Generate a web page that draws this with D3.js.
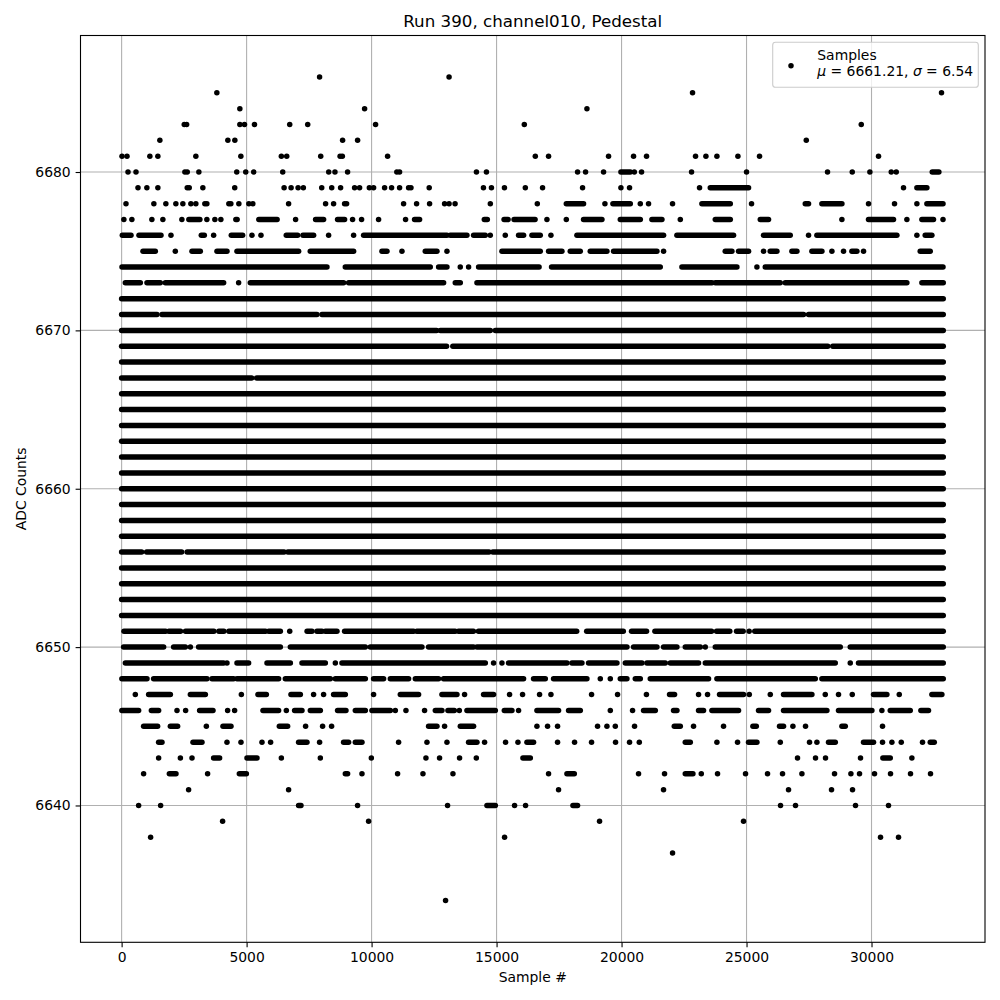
<!DOCTYPE html>
<html><head><meta charset="utf-8">
<script src="https://cdn.jsdelivr.net/npm/d3@7"></script>
<style>body{margin:0;background:#fff} svg{display:block;font-family:"DejaVu Sans",sans-serif}</style>
</head><body><svg id="c" width="1000" height="1000"></svg>
<script>
// ---------- chart text ----------
const titleText = "Run 390, channel010, Pedestal";
const xLabel = "Sample #";
const yLabel = "ADC Counts";
const legendLabel = "Samples";
const meanValue = "6661.21";
const sigmaValue = "6.54";
const xTicks = [0, 5000, 10000, 15000, 20000, 25000, 30000];
const yTicks = [6640, 6650, 6660, 6670, 6680];
const lastSample = 32870;

// ---------- data: [ADC level, sample #s]; a single number is one sample,
// a pair [first,last] is a stretch of consecutive samples at that level ----------
const outliersHigh = [
  [6686, [7920, 13100]],
  [6685, [3810, 22840, 32800]],
  [6684, [4730, 9720, 18615]],
  [6683, [2505, 2600, 4730, 4915, 5315, 6725, 7445, 10160, 16110, 29590]],
  [6682, [1530, 4250, 4530, 8840, 9440, 27390]],
  [6681, [15, 215, 1130, 1450, 2970, 4770, 6390, 6605, 7965, 8740, 8830, 10640, 16550, 17080, 19480, 20480, 21000, 22960, 23375, 23815, 24655, 25520, 30280]],
  [6680, [255, 575, 2530, 2625, 3090, 4605, 4965, 5285, 6445, 8285, 8535, 9040, 11010, 11120, 14195, 14595, 18240, 18560, 19280, [19975, 20350], 20510, 20800, 22800, 25000, 28240, 29230, 29935, 30790, 30990, [32430, 32695]]],
  [6679, [655, 1010, 1450, 2625, 2705, 3250, 4525, 6500, 6780, 7060, 7270, 8005, 8405, 8760, 9320, 9520, 9910, 10080, 10520, 10800, 11120, 11480, 11575, 12305, 14475, 14795, 15315, 16150, 16840, 18440, 19975, 20320, 23120, [23550, 25080], 31280, [31815, 32215]]],
  [6678, [175, 1290, 1770, 2170, 2450, 2770, 2970, 3330, 3410, 4290, 4370, 4690, 5090, 5250, 6680, 8160, 8480, 8920, 9000, 11280, 11800, 12320, 12920, 13100, 13340, 14750, 16630, [17790, 18480], 19335, [19655, 20350], 20750, 21080, 22040, [23215, 24350], 25200, [27350, 27480], [28015, 28815], 29880, 30920, 31815, [32215, 32860]]],
  [6677, [90, 410, 1210, 1650, 2410, [2690, 3130], 3410, 3730, 3970, [4570, 4620], [5490, 6220], 6960, [7760, 8080], [8640, 8920], 9240, 9600, 10280, 11360, [11720, 11920], [14510, 14630], [15300, 15460], [15700, 16540], 17015, 17790, [18480, 19215], [19950, 20750], [21215, 21615], 22350, [23750, 24350], [25550, 25880], 28815, [29880, 30880], 31415, [32015, 32480], 32860]]
];

const bandHigh = [
  [6676, [[28, 375], [695, 1575], 1974, [3188, 3308], 3681, [4388, 4841], 5214, 5575, [6588, 7041], [7255, 7681], 8281, 9281, [9681, 13015], [13148, 13814], [14081, 14548], 14748, 15348, [15881, 16081], [16415, 16748], 17175, [18215, 21681], [22215, 24481], [25681, 26748], 27481, [27815, 31015], 31815, [32148, 32415]]],
  [6675, [[855, 1348], 2148, [2815, 3148], [3815, 4215], [4615, 7081], [7548, 9281], [10415, 10615], 11215, [12148, 12615], 13015, [15215, 16748], [17081, 17615], [17948, 18348], [18748, 19415], [19681, 21415], 21681, [24148, 24415], [24681, 25081], 25681, [25948, 26215], [26815, 27015], [27615, 28015], 28415, 28881, [29215, 29415], 29681, [31948, 32348]]],
  [6674, [[15, 8215], [8948, 12348], [12681, 13015], 13548, 13881, [14281, 16700], [17200, 21548], [22415, 24615], 25415, [25748, 32860]]],
  [6673, [[148, 748], [1015, 1548], [1748, 4081], 4681, [5148, 8881], [9081, 12881], [13348, 13548], [14215, 23615], [23748, 26348], [26548, 31415], [32015, 32870]]]
];

const core = [
  [6672, [[0, 32870]]],
  [6671, [[0, 1415], [1615, 7815], [8015, 27281], [27481, 32870]]],
  [6670, [[0, 12600], [12750, 14750], [14950, 32870]]],
  [6669, [[0, 13000], [13250, 28250], [28450, 32870]]],
  [6668, [[0, 32870]]],
  [6667, [[0, 5200], [5400, 32870]]],
  [6666, [[0, 32870]]],
  [6665, [[0, 32870]]],
  [6664, [[0, 32870]]],
  [6663, [[0, 32870]]],
  [6662, [[0, 32870]]],
  [6661, [[0, 32870]]],
  [6660, [[0, 32870]]],
  [6659, [[0, 32870]]],
  [6658, [[0, 32870]]],
  [6657, [[0, 32870]]],
  [6656, [[0, 800], [1000, 2400], [2620, 6500], [6650, 14700], [14850, 32870]]],
  [6655, [[0, 32870]]],
  [6654, [[0, 32870]]],
  [6653, [[0, 32870]]],
  [6652, [[0, 32870]]]
];

const bandLow = [
  [6651, [[95, 1760], [1890, 2355], [2555, 3690], [3890, 4090], [4290, 5755], [5885, 6350], 6725, [7420, 7615], [7815, 8015], [8150, 8615], [8920, 9950], [10015, 11680], [11810, 13345], [13475, 14075], [14275, 18205], [18605, 20070], [20400, 21000], [21335, 23600], [23800, 24330], [24600, 24865], 25105, [25330, 32870]]],
  [6650, [[80, 1680], [2080, 2550], 2750, [3080, 6350], [6750, 9750], [9950, 12015], [12280, 14080], [14215, 20215], [20480, 21415], [21680, 22215], [22550, 23150], 23350, [23750, 28750], [29150, 32870]]],
  [6649, [[150, 4080], 4215, [4615, 5080], [5815, 6750], [7215, 8150], 8550, [8815, 14550], 14880, 15215, [15480, 17815], [18015, 18415], [18680, 19815], [20150, 20815], [21015, 21750], [21950, 23080], [23350, 28550], 29150, [29480, 32870]]],
  [6648, [[10, 1015], [1280, 3415], [3615, 4480], [4615, 6280], [6550, 8350], [8550, 9750], [10080, 10480], [10750, 11480], [11750, 12680], [12880, 16080], [16480, 16950], [17280, 18615], 19150, 19550, [19950, 20215], [20550, 20750], [21150, 23480], [23815, 27750], [28015, 32870]]],
  [6647, [548, [1080, 1950], [2750, 3350], 4790, [5455, 5790], [6775, 7150], 7680, 8080, [8480, 8950], 10080, [11150, 11880], [12815, 13415], 13720, [14480, 14880], 15520, 16040, 16720, 17175, 18800, 19840, 20995, [21920, 22120], 23080, 23440, [23920, 24880], 25110, 25950, [26480, 27615], 28150, 28680, 29230, [30080, 30615], 31110, [32415, 32815]]]
];

const outliersLow = [
  [6646, [[10, 680], [1190, 1480], 2215, 2560, [3120, 3655], 4240, 4520, [5655, 6280], 6590, [6920, 7215], [7550, 7950], [8640, 8975], [9350, 9750], [10015, 10750], 10950, 11375, 12120, [12550, 12815], [13055, 13310], 13510, [13815, 14950], [15310, 15615], 15880, [16615, 17480], [17880, 18350], 19550, 20440, [20880, 21350], [22080, 22215], [23080, 23280], [23615, 24680], [25480, 25880], [26480, 28215], [28680, 30015], 30415, [30750, 31550], [31975, 32280]]],
  [6645, [[880, 1440], [1950, 2240], 3390, [4055, 4375], [6310, 6640], 7360, 8040, 8400, [12280, 12615], 12920, [13550, 14080], 16615, 17040, 17440, 19040, 19415, 19750, 20520, [22110, 22350], 22880, 24080, [25255, 25390], [26320, 26480], 26855, 27360, [28815, 28950], 30440]],
  [6644, [[1480, 1615], [2855, 3215], 4215, 4775, 5615, 5960, [7080, 7415], 7920, [8880, 9080], [9350, 9615], 11080, 12215, 13015, [13880, 14215], 14520, 15360, 15855, [16215, 16480], 17440, 18120, 18800, 19760, 20320, 20710, [22550, 22750], 23815, 24640, [25080, 25415], 26350, 27520, 27815, [28280, 28550], [29680, 30080], 30440, 30815, 31190, 32040, [32350, 32510]]],
  [6643, [1480, 2350, 2815, [3680, 3920], [5015, 5415], 6390, 7950, 9990, 12175, 12720, 13520, 14190, [16055, 16350], 27040, 27760, 28160, 29560, [30455, 30750], 31615]],
  [6642, [880, [1910, 2175], 3440, [4710, 4990], [8950, 9040], 9615, 11040, 12055, 13255, 17080, [17815, 18110], 20680, 21720, [22550, 22855], 23190, 23840, 24960, 25840, 26440, 27215, 28520, 29175, 29520, 30120, 30760, 31560, 32360]],
  [6641, [2680, 6680, 17480, 21680, 26680, 28400, 29240]],
  [6640, [680, 1560, [7080, 7175], 9440, 13040, [14615, 14950], 15720, 16160, [18055, 18240], 26360, 26960, 29360, 30680]],
  [6639, [4040, 9880, 19120, 24880]],
  [6638, [1160, 15320, 30360, 31080]],
  [6637, [22040]],
  [6634, [12960]]
];

// ---------- layout ----------
const svg = d3.select("#c");
const L = 80.5, R = 985, T = 35.5, B = 942.3;
const x = d3.scaleLinear().domain([-1645, 34540]).range([L, R]);
const y = d3.scaleLinear().domain([6631.36, 6688.62]).range([B, T]);
const fs = 13.9;

svg.append("rect").attr("width", 1000).attr("height", 1000).attr("fill", "#fff");

// grid
const grid = svg.append("g").attr("stroke", "#b0b0b0").attr("stroke-width", 1.1);
grid.selectAll(".gx").data(xTicks).join("line")
  .attr("x1", d => x(d)).attr("x2", d => x(d)).attr("y1", T).attr("y2", B);
grid.selectAll(".gy").data(yTicks).join("line")
  .attr("y1", d => y(d)).attr("y2", d => y(d)).attr("x1", L).attr("x2", R);

// points
const rows = [...outliersHigh, ...bandHigh, ...core, ...bandLow, ...outliersLow];
const items = [];
rows.forEach(([lvl, list]) => list.forEach(v => {
  if (Array.isArray(v)) items.push({lvl, a: v[0], b: v[1]});
  else items.push({lvl, a: v, b: v});
}));
const clip = svg.append("clipPath").attr("id", "pc").append("rect")
  .attr("x", L).attr("y", T).attr("width", R - L).attr("height", B - T);
const pts = svg.append("g").attr("clip-path", "url(#pc)");
const DOT = 5.5;
pts.selectAll("line").data(items.filter(d => d.b > d.a)).join("line")
  .attr("x1", d => x(d.a)).attr("x2", d => x(d.b))
  .attr("y1", d => y(d.lvl)).attr("y2", d => y(d.lvl))
  .attr("stroke", "#000").attr("stroke-width", DOT).attr("stroke-linecap", "round");
pts.selectAll("circle").data(items.filter(d => d.b === d.a)).join("circle")
  .attr("cx", d => x(d.a)).attr("cy", d => y(d.lvl)).attr("r", DOT / 2).attr("fill", "#000");

// axes
const xa = svg.append("g").attr("transform", `translate(0,${B})`)
  .call(d3.axisBottom(x).tickValues(xTicks).tickFormat(d3.format("d")).tickSize(4.9).tickPadding(4.9));
const ya = svg.append("g").attr("transform", `translate(${L},0)`)
  .call(d3.axisLeft(y).tickValues(yTicks).tickFormat(d3.format("d")).tickSize(4.9).tickPadding(4.9));
[xa, ya].forEach(g => {
  g.select(".domain").remove();
  g.selectAll("line").attr("stroke", "#000").attr("stroke-width", 1.1);
  g.selectAll("text").attr("fill", "#000").attr("font-size", fs).attr("font-family", "DejaVu Sans");
});

// frame
svg.append("rect").attr("x", L).attr("y", T).attr("width", R - L).attr("height", B - T)
  .attr("fill", "none").attr("stroke", "#000").attr("stroke-width", 1.1);

// title & labels
svg.append("text").attr("x", (L + R) / 2).attr("y", 27.2).attr("text-anchor", "middle")
  .attr("font-size", 16.7).text(titleText);
svg.append("text").attr("x", (L + R) / 2).attr("y", 981.5).attr("text-anchor", "middle")
  .attr("font-size", fs).text(xLabel);
svg.append("text").attr("transform", `translate(25.5,${(T + B) / 2}) rotate(-90)`)
  .attr("text-anchor", "middle").attr("font-size", fs).text(yLabel);

// legend
const lg = svg.append("g");
lg.append("rect").attr("x", 772.7).attr("y", 42.3).attr("width", 205.6).attr("height", 45)
  .attr("rx", 2.8).attr("fill", "#fff").attr("fill-opacity", 0.8)
  .attr("stroke", "#cccccc").attr("stroke-width", 1.1);
lg.append("circle").attr("cx", 791).attr("cy", 65.7).attr("r", DOT / 2).attr("fill", "#000");
lg.append("text").attr("x", 817.3).attr("y", 59.5).attr("font-size", fs).text(legendLabel);
const t2 = lg.append("text").attr("x", 817.3).attr("y", 76).attr("font-size", fs);
t2.append("tspan").attr("font-style", "italic").text("μ");
t2.append("tspan").text(` = ${meanValue}, `);
t2.append("tspan").attr("font-style", "italic").text("σ");
t2.append("tspan").text(` = ${sigmaValue}`);
</script>
</body></html>
